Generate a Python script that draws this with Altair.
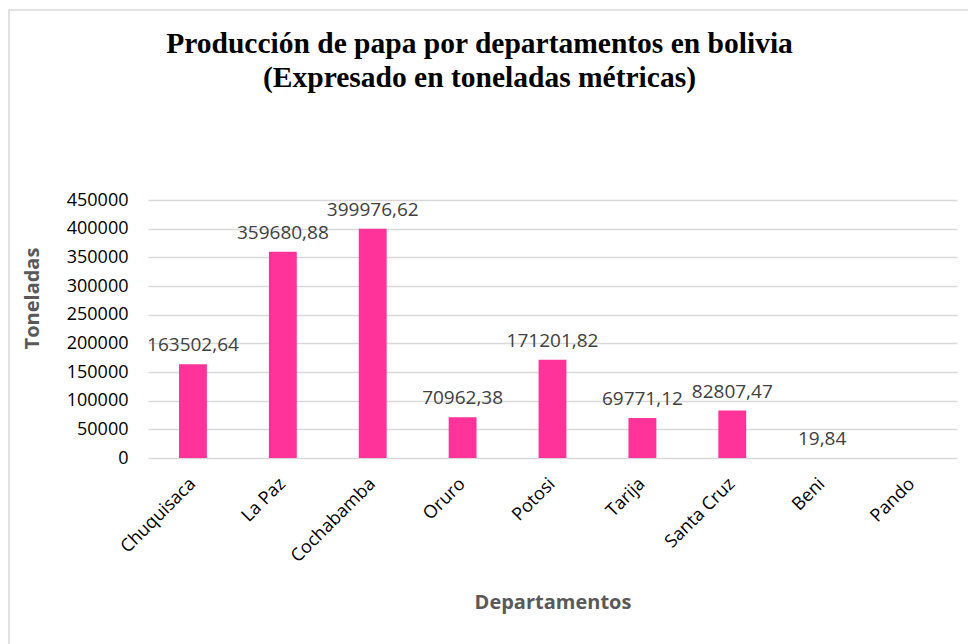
import altair as alt
import pandas as pd

departamentos = ["Chuquisaca", "La Paz", "Cochabamba", "Oruro", "Potosi",
                 "Tarija", "Santa Cruz", "Beni", "Pando"]
toneladas = [163502.64, 359680.88, 399976.62, 70962.38, 171201.82,
             69771.12, 82807.47, 19.84, None]
etiquetas = ["163502,64", "359680,88", "399976,62", "70962,38", "171201,82",
             "69771,12", "82807,47", "19,84", ""]
y_ticks = [0, 50000, 100000, 150000, 200000, 250000, 300000, 350000, 400000, 450000]

df = pd.DataFrame({"Departamento": departamentos, "Toneladas": toneladas, "Etiqueta": etiquetas})

PLOT_W, PLOT_H = 809, 258
PINK = "#FF3399"
FONT = "Open Sans"

x_axis = alt.Axis(
    title="Departamentos", titleFont=FONT, titleFontSize=20, titleFontWeight="bold",
    titleColor="#595959", titlePadding=27,
    labelFont=FONT, labelFontSize=18, labelColor="#000000", labelAngle=-45,
    labelAlign="right", labelBaseline="middle", labelPadding=23,
    ticks=False, domain=False, grid=False,
)
y_axis = alt.Axis(
    title="Toneladas", titleFont=FONT, titleFontSize=20, titleFontWeight="bold",
    titleColor="#595959", titleY=98, titlePadding=24,
    values=y_ticks, format="d", labelOverlap=False,
    labelFont=FONT, labelFontSize=18, labelColor="#000000", labelPadding=20,
    ticks=False, domain=False, grid=True, gridColor="#d9d9d9", gridWidth=1.5,
)
x_scale = alt.Scale(paddingInner=0.69, paddingOuter=0.345)
y_scale = alt.Scale(domain=[0, 450000], nice=False)

bars = alt.Chart(df).mark_bar(color=PINK).encode(
    x=alt.X("Departamento:N", sort=departamentos, scale=x_scale, axis=x_axis),
    y=alt.Y("Toneladas:Q", scale=y_scale, axis=y_axis),
)

labels = alt.Chart(df).transform_filter("datum.Toneladas != null").mark_text(
    font=FONT, fontSize=19, color="#404040", baseline="bottom", dy=-9
).encode(
    x=alt.X("Departamento:N", sort=departamentos, scale=x_scale, axis=x_axis),
    y=alt.Y("Toneladas:Q", scale=y_scale, axis=y_axis),
    text="Etiqueta:N",
)

border = alt.Chart(alt.Data(values=[{"a": 1}])).mark_rect(
    fillOpacity=0, stroke="#d9d9d9", strokeWidth=1.5
).encode(
    x=alt.value(9 - 148), x2=alt.value(PLOT_W + 40),
    y=alt.value(10 - 200), y2=alt.value(PLOT_H + 250),
)

chart = alt.layer(border, bars, labels).properties(
    width=PLOT_W, height=PLOT_H,
    title=alt.TitleParams(
        text=["Producción de papa por departamentos en bolivia",
              "(Expresado en toneladas métricas)"],
        font="Liberation Serif", fontSize=29.5, fontWeight="bold", color="#000000",
        anchor="middle", frame="group", dx=-73, offset=-84, lineHeight=34,
    ),
    autosize=alt.AutoSizeParams(type="none"),
    padding={"left": 148, "top": 200, "right": 11, "bottom": 186},
).configure(background="#ffffff").configure_view(stroke=None)

chart.save("out.html", embed_options={"renderer": "svg", "actions": False})
